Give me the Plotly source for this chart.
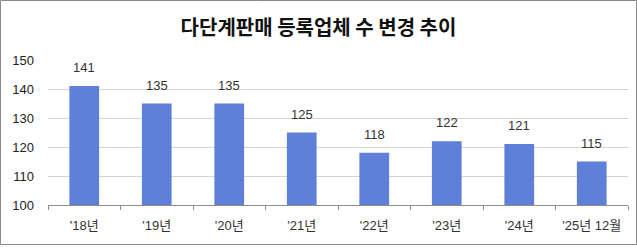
import plotly.graph_objects as go

categories = ["'18년", "'19년", "'20년", "'21년", "'22년", "'23년", "'24년", "'25년 12월"]
values = [141, 135, 135, 125, 118, 122, 121, 115]
y_ticks = [100, 110, 120, 130, 140, 150]
title_text = "다단계판매 등록업체 수 변경 추이"

W, H = 637, 250
L, R, T, B = 48, 9, 60, 45
pw = W - L - R
ph = H - T - B

font_family = "Liberation Sans, Noto Sans CJK KR, sans-serif"

fig = go.Figure()
fig.add_trace(go.Bar(
    x=categories, y=values,
    marker=dict(color="#5f80d8", line=dict(width=0)),
    cliponaxis=False,
))

for c, v in zip(categories, values):
    fig.add_annotation(x=c, y=v, text=str(v), showarrow=False, yanchor="bottom", yshift=9,
                       font=dict(size=13, color="#333333", family=font_family))

def px_x(p):
    return (p - L) / pw

def px_y(p):
    return (H - B - p) / ph

fig.update_layout(
    width=W, height=H,
    margin=dict(l=L, r=R, t=T, b=B),
    paper_bgcolor="white", plot_bgcolor="white",
    bargap=0.59,
    showlegend=False,
    title=dict(text=title_text, x=0.5, xanchor="center", y=1 - 28 / H, yanchor="middle",
               font=dict(size=20, color="#111111", family="Noto Sans CJK KR, sans-serif", weight="bold")),
    xaxis=dict(
        showgrid=False, showline=True, linecolor="#8c8c8c", linewidth=1,
        ticks="outside", ticklen=4, tickcolor="#8c8c8c", tickson="boundaries",
        ticklabelstandoff=8,
        tickfont=dict(size=13, color="#333333", family=font_family),
    ),
    yaxis=dict(
        range=[100, 150], tickvals=y_ticks, showgrid=True, gridcolor="#d4d4d4", gridwidth=1,
        zeroline=False, showline=False, ticks="", ticklabelstandoff=13,
        tickfont=dict(size=13, color="#222222", family=font_family),
    ),
    shapes=[dict(type="rect", xref="paper", yref="paper",
                 x0=px_x(0.5), x1=px_x(636.5), y0=px_y(244.5), y1=px_y(0.5),
                 line=dict(color="#8a8a8a", width=1), layer="above")],
)

fig.write_html("out.html")
